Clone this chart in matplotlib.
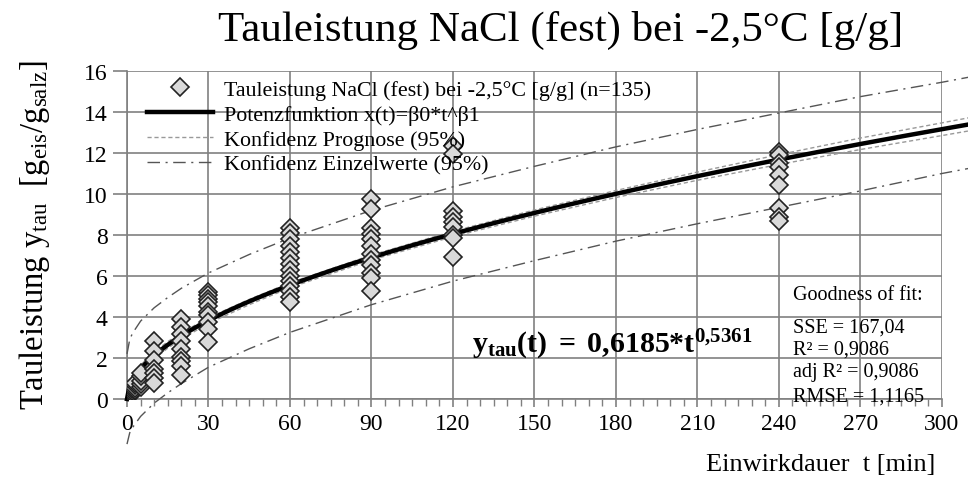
import numpy as np
import matplotlib
matplotlib.use("Agg")
import matplotlib.pyplot as plt

plt.rcParams['font.family'] = ['Liberation Serif', 'DejaVu Serif']
plt.rcParams['mathtext.fontset'] = 'custom'
plt.rcParams['mathtext.rm'] = 'Liberation Serif'
plt.rcParams['mathtext.it'] = 'Liberation Serif:italic'
plt.rcParams['mathtext.bf'] = 'Liberation Serif:bold'

# measured values (t in min, tauleistung in g/g)
t_1 = [1, 1, 1, 1, 1]
y_1 = [0.15, 0.25, 0.3, 0.35, 0.45]
t_2 = [2, 2, 2, 2]
y_2 = [0.3, 0.4, 0.5, 0.6]
t_3 = [3, 3, 3, 3]
y_3 = [0.45, 0.55, 0.7, 0.8]
t_5 = [5, 5, 5, 5, 5]
y_5 = [0.6, 0.75, 0.9, 1.1, 1.25]
t_10 = [10] * 7
y_10 = [2.85, 2.35, 1.9, 1.45, 1.25, 1.0, 0.8]
t_20 = [20] * 9
y_20 = [3.9, 3.5, 3.17, 2.84, 2.44, 2.03, 1.87, 1.62, 1.17]
t_30 = [30] * 10
y_30 = [5.2, 5.05, 4.9, 4.75, 4.55, 4.23, 4.1, 3.74, 3.41, 2.76]
t_60 = [60] * 14
y_60 = [8.35, 8.1, 7.8, 7.45, 7.15, 6.9, 6.6, 6.3, 6.0, 5.75, 5.5, 5.25, 5.0, 4.75]
t_90 = [90] * 12
y_90 = [9.75, 9.25, 8.35, 8.05, 7.8, 7.45, 7.05, 6.8, 6.55, 6.15, 5.9, 5.25]
t_120 = [120] * 9
y_120 = [12.35, 11.95, 9.15, 8.9, 8.65, 8.4, 8.0, 7.85, 6.95]
t_240 = [240] * 9
y_240 = [12.05, 11.9, 11.5, 11.3, 10.95, 10.45, 9.3, 8.9, 8.7]

t_all = t_1 + t_2 + t_3 + t_5 + t_10 + t_20 + t_30 + t_60 + t_90 + t_120 + t_240
y_all = y_1 + y_2 + y_3 + y_5 + y_10 + y_20 + y_30 + y_60 + y_90 + y_120 + y_240

# fit parameters
b0 = 0.6185
b1 = 0.5361

# confidence bands
t_band = [0, 1, 2, 5, 10, 15, 20, 30, 45, 60, 90, 120, 150, 180, 210, 240, 270, 300, 310]
prog_hi = [0.2, 0.8, 1.1, 1.65, 2.3, 2.8, 3.22, 3.97, 4.86, 5.67, 7.02, 8.18, 9.22, 10.17, 11.07, 11.92, 12.73, 13.47, 13.72]
prog_lo = [0.0, 0.45, 0.72, 1.3, 1.95, 2.48, 2.92, 3.69, 4.6, 5.43, 6.78, 7.92, 8.92, 9.83, 10.67, 11.44, 12.17, 12.85, 13.08]
einz_hi = [2.2, 2.9, 3.2, 3.8, 4.45, 4.95, 5.4, 6.15, 7.05, 7.85, 9.2, 10.35, 11.35, 12.3, 13.15, 13.95, 14.75, 15.45, 15.7]
einz_lo = [-2.2, -1.65, -1.4, -0.85, -0.2, 0.3, 0.75, 1.55, 2.45, 3.25, 4.6, 5.75, 6.75, 7.7, 8.55, 9.35, 10.15, 11.0, 11.25]

fig = plt.figure(figsize=(9.68, 4.81), dpi=100)
ax = fig.add_axes([0.1312, 0.1684, 0.973 - 0.1312, 0.8503 - 0.1684])

grid_col = '#808080'
t_fit = np.linspace(0, 310, 400)
y_fit = b0 * t_fit ** b1

ax.plot(t_band, einz_hi, color='#555555', lw=1.0, ls=(0, (9, 4, 1.5, 4)), clip_on=False, zorder=3)
ax.plot(t_band, einz_lo, color='#555555', lw=1.0, ls=(0, (9, 4, 1.5, 4)), clip_on=False, zorder=3,
        label='Konfidenz Einzelwerte (95%)')
ax.plot(t_band, prog_hi, color='#999999', lw=1.0, ls=(0, (3, 2)), clip_on=False, zorder=3)
ax.plot(t_band, prog_lo, color='#999999', lw=1.0, ls=(0, (3, 2)), clip_on=False, zorder=3,
        label='Konfidenz Prognose (95%)')
ax.plot(t_fit, y_fit, color='black', lw=3.2, clip_on=False, zorder=4,
        label='Potenzfunktion x(t)=β0*t^β1')
ax.plot(t_all, y_all, ls='none', marker='D', ms=9, mfc='#d9d9d9', mec='#222222', mew=1.2, zorder=5,
        label='Tauleistung NaCl (fest) bei -2,5°C [g/g] (n=135)')

ax.set_xlim(0, 300)
ax.set_ylim(0, 16)
ax.set_xticks(np.arange(0, 301, 30))
ax.set_xticks(np.arange(0, 301, 5), minor=True)
ax.set_yticks(np.arange(0, 17, 2))
ax.grid(True, which='major', color=grid_col, lw=1.2)
for s in ['top', 'right']:
    ax.spines[s].set_visible(False)
for s in ['left', 'bottom']:
    ax.spines[s].set_color(grid_col)
    ax.spines[s].set_linewidth(1.2)
ax.tick_params(axis='x', which='major', direction='out', length=6, width=1.2, color=grid_col,
               labelsize=17, pad=4)
ax.tick_params(axis='x', which='minor', direction='out', length=5, width=1.0, color=grid_col)
ax.tick_params(axis='y', which='major', direction='out', length=10, width=1.2, color=grid_col,
               labelsize=17, pad=4)

handles, labels = ax.get_legend_handles_labels()
order = [3, 2, 1, 0]
ax.legend([handles[i] for i in order], [labels[i] for i in order], loc='upper left',
          bbox_to_anchor=(0.014, 1.0), frameon=False, fontsize=15.8, handlelength=3.0,
          handletextpad=0.5, labelspacing=0.2, borderaxespad=0)

ax.text(178.5, 2.7, r'$\mathbf{y}_{\mathbf{tau}}\mathbf{(t)\ =\ 0{,}6185{*}t}^{\mathbf{0{,}5361}}$',
        fontsize=21.5, ha='center', va='center')

gof = ['Goodness of fit:', 'SSE = 167,04', 'R² = 0,9086', 'adj R² = 0,9086', 'RMSE = 1,1165']
gof_y = [296, 328, 350, 373, 397]
for yy, s in zip(gof_y, gof):
    fig.text(793 / 968, 1 - yy / 481, s, fontsize=14.5, va='center')

fig.text(561 / 968, 1 - 30 / 481, 'Tauleistung NaCl (fest) bei -2,5°C [g/g]', fontsize=31,
         ha='center', va='center')
fig.text(935 / 968, 1 - 465 / 481, 'Einwirkdauer  t [min]', fontsize=19, ha='right', va='center')
fig.text(35 / 968, 1 - 235 / 481,
         r'Tauleistung y$_{\mathrm{tau}}$  [g$_{\mathrm{eis}}$/g$_{\mathrm{salz}}$]',
         fontsize=23.5, rotation=90, ha='center', va='center')

fig.savefig('out.png', dpi=100)
